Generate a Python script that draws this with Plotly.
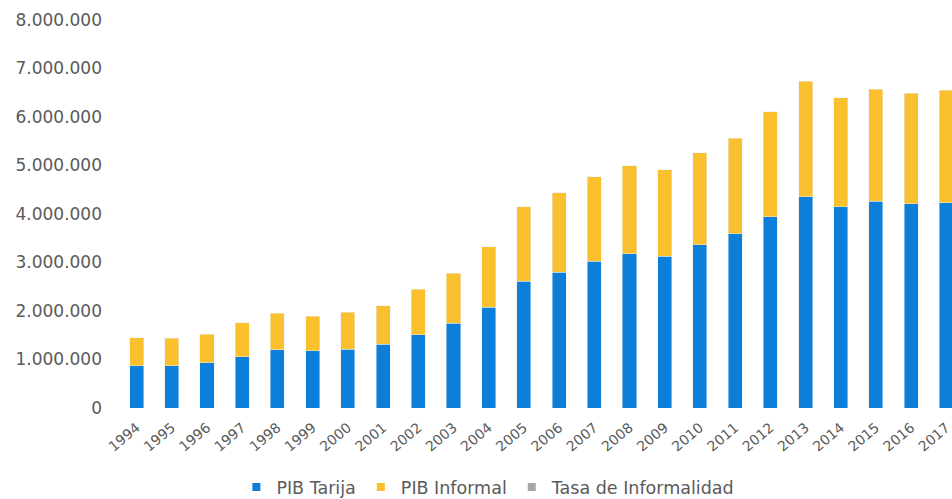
import plotly.graph_objects as go

years = [str(y) for y in range(1994, 2018)]
pib_tarija = [870000, 870000, 930000, 1060000, 1200000, 1180000, 1210000, 1310000,
              1510000, 1750000, 2080000, 2610000, 2800000, 3030000, 3180000, 3130000,
              3370000, 3590000, 3940000, 4360000, 4150000, 4260000, 4210000, 4230000]
pib_total = [1450000, 1440000, 1520000, 1760000, 1950000, 1890000, 1970000, 2110000,
             2450000, 2780000, 3330000, 4150000, 4440000, 4770000, 5000000, 4910000,
             5260000, 5560000, 6110000, 6740000, 6400000, 6570000, 6490000, 6550000]
pib_informal = [t - b for t, b in zip(pib_total, pib_tarija)]
tasa_informalidad = [None] * len(years)

c_blue = "#0B7FD9"
c_yellow = "#FBC02D"
c_grey = "#A6A6A6"
txt = "#5A5A5A"
FONT = "DejaVu Sans"

fig = go.Figure()
fig.add_trace(go.Bar(x=years, y=pib_tarija, name="PIB Tarija", marker_color=c_blue,
                     showlegend=False))
fig.add_trace(go.Bar(x=years, y=pib_informal, name="PIB Informal", marker_color=c_yellow,
                     showlegend=False))
fig.add_trace(go.Bar(x=years, y=tasa_informalidad, name="Tasa de Informalidad",
                     marker_color=c_grey, showlegend=False))

# legend entries (square markers like the original)
for name, col in [("PIB Tarija", c_blue), ("PIB Informal", c_yellow),
                  ("Tasa de Informalidad", c_grey)]:
    fig.add_trace(go.Scatter(x=[None], y=[None], mode="markers", name=name,
                             marker=dict(symbol="square", size=8, color=col)))

fig.update_layout(
    width=952, height=499,
    barmode="stack", bargap=0.6,
    separators=",.",
    paper_bgcolor="white", plot_bgcolor="white",
    margin=dict(l=119, r=0, t=20, b=91),
    font=dict(family=FONT, color=txt),
    legend=dict(orientation="h", xref="container", yref="container",
                x=0.513, xanchor="center", y=0.024, yanchor="middle",
                traceorder="normal",
                font=dict(size=17.5, color=txt, family=FONT),
                itemwidth=30, bgcolor="rgba(0,0,0,0)"),
)
fig.update_xaxes(type="category", range=[-0.5, 23.16], tickangle=-40,
                 tickfont=dict(size=14, color=txt, family=FONT),
                 ticklabelstandoff=8,
                 showline=False, showgrid=False, ticks="")
fig.update_yaxes(range=[0, 8000000], tickmode="linear", tick0=0, dtick=1000000,
                 tickformat=",d", showgrid=False, zeroline=False, showline=False,
                 ticklabelstandoff=16,
                 tickfont=dict(size=17, color=txt, family=FONT))

fig.write_html("out.html", config={"displayModeBar": False},
               post_script="document.body.style.margin='0';document.body.style.overflow='hidden';")
